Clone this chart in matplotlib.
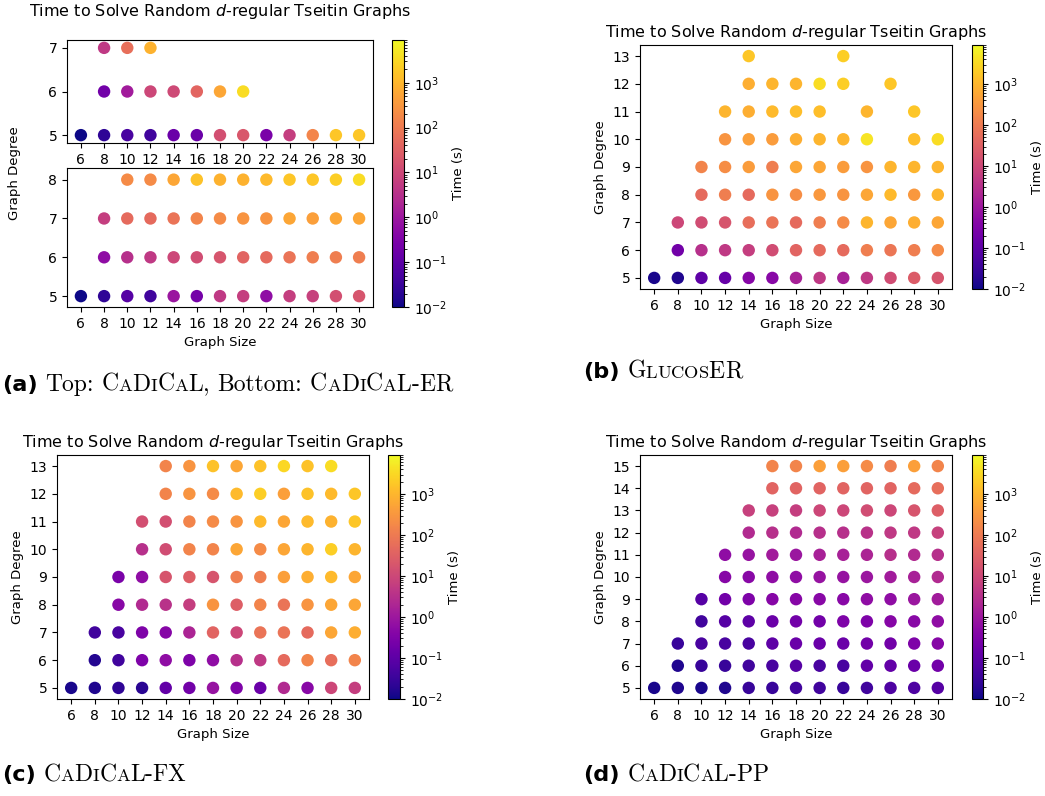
import numpy as np
import matplotlib
matplotlib.use("Agg")
import matplotlib.pyplot as plt
from matplotlib.colors import LogNorm

N = None
sizes = [6, 8, 10, 12, 14, 16, 18, 20, 22, 24, 26, 28, 30]

# Time (s) per graph degree (rows) and graph size (columns)
cadical_degrees = [5, 6, 7]
cadical_times = [
    [0.010, 0.023, 0.052, 0.039, 0.155, 0.155, 14.3, 21, 0.27, 6.3, 160, 1740, 1740],
    [N, 0.204, 1.2, 9.5, 11, 40, 580, 3450, N, N, N, N, N],
    [N, 4.8, 60, 875, N, N, N, N, N, N, N, N, N],
]

cadical_er_degrees = [5, 6, 7, 8]
cadical_er_times = [
    [0.010, 0.023, 0.078, 0.039, 0.92, 0.234, 4.8, 6.3, 0.61, 6.3, 7.2, 14.3, 18.8],
    [N, 0.61, 3.2, 4.8, 9.5, 12.5, 18.8, 37, 49, 74, 112, 112, 112],
    [N, 6.3, 49, 49, 74, 147, 194, 292, 292, 580, 441, 580, 580],
    [N, N, 194, 194, 580, 1510, 875, 875, 1150, 1740, 1740, 2280, 3450],
]

glucoser_degrees = [5, 6, 7, 8, 9, 10, 11, 12, 13]
glucoser_times = [
    [0.013, 0.015, 0.103, 0.135, 0.405, 0.465, 1.6, 4.8, 1.6, 4.8, 12.5, 25, 18.8],
    [N, 0.204, 3.2, 4.8, 6.3, 12.5, 37, 49, 49, 112, 85, 112, 194],
    [N, 9.5, 12.5, 18.8, 56, 74, 49, 112, 194, 1000, 580, 763, 580],
    [N, N, 49, 112, 49, 292, 222, 335, 292, 580, 1150, 335, 1000],
    [N, N, 147, 222, 385, 112, 580, 580, 385, 292, 1000, 1000, 1000],
    [N, N, N, 292, 441, 385, 763, 1000, 1000, 4530, N, 1320, 3450],
    [N, N, N, 1000, 763, 1150, 1320, 1320, N, 1000, N, 1740, N],
    [N, N, N, N, 763, 1000, 1000, 3450, 2280, N, 1740, N, N],
    [N, N, N, N, 1740, N, N, N, 2280, N, N, N, N],
]

cadical_fx_degrees = [5, 6, 7, 8, 9, 10, 11, 12, 13]
cadical_fx_times = [
    [0.013, 0.015, 0.023, 0.020, 0.118, 0.204, 0.80, 0.31, 0.155, 2.4, 0.465, 9.5, 6.3],
    [N, 0.017, 0.039, 0.31, 0.61, 0.31, 0.61, 3.2, 4.8, 49, 147, 56, 147],
    [N, 0.039, 0.052, 0.31, 0.405, 1.83, 37, 9.5, 74, 74, 49, 580, 763],
    [N, N, 0.465, 2.4, 3.6, 6.3, 292, 28, 147, 74, 292, 580, 580],
    [N, N, 0.27, 0.61, 18.8, 28, 18.8, 112, 112, 441, 763, 1150, 580],
    [N, N, N, 3.2, 12.5, 147, 147, 580, 194, 580, 1000, 2280, 1000],
    [N, N, N, 14.3, 14.3, 147, 194, 292, 1150, 580, 1150, 875, 1740],
    [N, N, N, N, 147, 292, 194, 1150, 2280, 441, 1510, 1150, 1740],
    [N, N, N, N, 147, 292, 1510, 580, 1510, 3000, 1510, 3450, N],
]

cadical_pp_degrees = [5, 6, 7, 8, 9, 10, 11, 12, 13, 14, 15]
cadical_pp_times = [
    [0.013, 0.015, 0.013, 0.015, 0.030, 0.030, 0.039, 0.039, 0.030, 0.039, 0.059, 0.059, 0.078],
    [N, 0.015, 0.030, 0.030, 0.039, 0.052, 0.078, 0.052, 0.052, 0.118, 0.118, 0.155, 0.204],
    [N, 0.030, 0.052, 0.052, 0.052, 0.103, 0.155, 0.155, 0.155, 0.204, 0.204, 0.31, 0.405],
    [N, N, 0.039, 0.078, 0.103, 0.155, 0.204, 0.204, 0.31, 0.31, 0.405, 0.465, 0.61],
    [N, N, 0.078, 0.204, 0.31, 0.405, 0.405, 0.465, 0.465, 0.61, 0.61, 0.92, 1.21],
    [N, N, N, 0.405, 0.465, 0.61, 0.61, 0.80, 0.80, 0.92, 1.21, 1.6, 2.4],
    [N, N, N, 0.61, 0.80, 1.21, 0.92, 1.6, 1.6, 1.83, 3.2, 2.4, 3.2],
    [N, N, N, N, 2.4, 3.2, 2.4, 3.2, 3.2, 3.6, 4.8, 4.8, 7.2],
    [N, N, N, N, 7.2, 7.2, 6.3, 9.5, 9.5, 12.5, 9.5, 18.8, 28],
    [N, N, N, N, N, 37, 37, 37, 37, 37, 37, 49, 56],
    [N, N, N, N, N, 147, 147, 441, 441, 194, 112, 441, 147],
]

TITLE = "Time to Solve Random $d$-regular Tseitin Graphs"
W, H = 1045, 796
FS = 10
plt.rcParams['font.family'] = ['DejaVu Sans']
plt.rcParams['mathtext.fontset'] = 'dejavusans'

fig = plt.figure(figsize=(W / 100, H / 100), dpi=100)
norm = LogNorm(vmin=0.01, vmax=9000)


def rect(l, r, t, b):
    return [l / W, 1 - b / H, (r - l) / W, (b - t) / H]


def draw(ax, degrees, times, ylim):
    xs, ys, cs = [], [], []
    for d, row in zip(degrees, times):
        for s, v in zip(sizes, row):
            if v is not None:
                xs.append(s)
                ys.append(d)
                cs.append(v)
    sc = ax.scatter(xs, ys, c=cs, cmap='plasma', norm=norm, s=80, linewidths=0)
    ax.set_xticks(sizes)
    ax.set_yticks(degrees)
    ax.set_xlim(4.8, 31.2)
    ax.set_ylim(*ylim)
    ax.tick_params(labelsize=FS)
    return sc


def cbar(sc, r):
    cax = fig.add_axes(r)
    cb = fig.colorbar(sc, cax=cax)
    cb.ax.tick_params(labelsize=FS)
    cb.set_label("Time (s)", fontsize=9.5)
    return cb


# (a)
ax_a1 = fig.add_axes(rect(67, 373, 40, 143))
sc = draw(ax_a1, cadical_degrees, cadical_times, (4.82, 7.18))
ax_a1.set_title(TITLE, fontsize=11.5, pad=17)
ax_a2 = fig.add_axes(rect(67, 373, 168, 307))
draw(ax_a2, cadical_er_degrees, cadical_er_times, (4.72, 8.3))
ax_a2.set_xlabel("Graph Size", fontsize=9.5)
fig.text(15 / W, 1 - 173 / H, "Graph Degree", rotation=90, fontsize=9.5,
         ha='center', va='center')
cbar(sc, rect(392, 404, 40, 307))

# (b)
ax_b = fig.add_axes(rect(640, 952, 45, 289))
sc = draw(ax_b, glucoser_degrees, glucoser_times, (4.6, 13.4))
ax_b.set_title(TITLE, fontsize=11.5)
ax_b.set_xlabel("Graph Size", fontsize=9.5)
ax_b.set_ylabel("Graph Degree", fontsize=9.5)
cbar(sc, rect(972, 983, 45, 289))

# (c)
ax_c = fig.add_axes(rect(57, 369, 455, 699))
sc = draw(ax_c, cadical_fx_degrees, cadical_fx_times, (4.6, 13.4))
ax_c.set_title(TITLE, fontsize=11.5)
ax_c.set_xlabel("Graph Size", fontsize=9.5)
ax_c.set_ylabel("Graph Degree", fontsize=9.5)
cbar(sc, rect(388, 400, 455, 699))

# (d)
ax_d = fig.add_axes(rect(640, 952, 455, 699))
sc = draw(ax_d, cadical_pp_degrees, cadical_pp_times, (4.5, 15.5))
ax_d.set_title(TITLE, fontsize=11.5)
ax_d.set_xlabel("Graph Size", fontsize=9.5)
ax_d.set_ylabel("Graph Degree", fontsize=9.5)
cbar(sc, rect(972, 983, 455, 699))

# captions with small caps
renderer = fig.canvas.get_renderer()
CAP = 17
SC_RATIO = 0.78


def put(x, y, s, **kw):
    t = fig.text(x / W, 1 - y / H, s, va='baseline', ha='left', **kw)
    bb = t.get_window_extent(renderer)
    return x + bb.width


def caption(x, y, label, pieces):
    x = put(x, y, label, fontsize=CAP * 0.95, fontweight='bold', family='DejaVu Sans')
    x += CAP * 0.45
    for text, kind in pieces:
        if kind == 'rm':
            for word_i, word in enumerate(text.split(' ')):
                if word_i > 0:
                    x += CAP * 0.46
                if word:
                    x = put(x, y, word, fontsize=CAP, family='cmr10')
        else:
            for ch in text:
                if ch.islower():
                    x = put(x, y, ch.upper(), fontsize=CAP * SC_RATIO, family='cmr10')
                else:
                    x = put(x, y, ch, fontsize=CAP, family='cmr10')


caption(2, 391, "(a)", [("Top: ", 'rm'), ("CaDiCaL", 'sc'), (", Bottom: ", 'rm'),
                        ("CaDiCaL-ER", 'sc')])
caption(583, 378, "(b)", [("GlucosER", 'sc')])
caption(2, 781, "(c)", [("CaDiCaL-FX", 'sc')])
caption(583, 781, "(d)", [("CaDiCaL-PP", 'sc')])

fig.savefig("out.png", dpi=100)
